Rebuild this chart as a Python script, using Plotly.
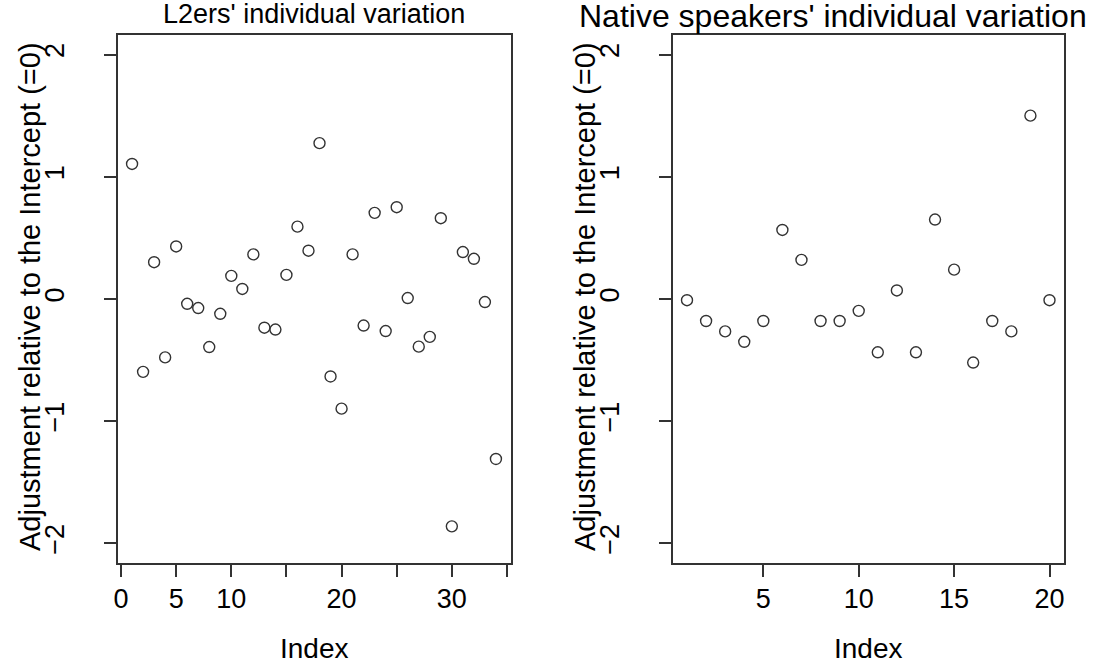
import plotly.graph_objects as go

# ---- data ----
l2_index = list(range(1, 35))
l2_adjust = [1.105, -0.596, 0.301, -0.478, 0.430, -0.039, -0.074, -0.393, -0.121, 0.189,
             0.082, 0.365, -0.235, -0.250, 0.197, 0.592, 0.395, 1.275, -0.634, -0.897,
             0.365, -0.217, 0.705, -0.262, 0.751, 0.008, -0.390, -0.310, 0.661, -1.860,
             0.384, 0.329, -0.025, -1.309]

ns_index = list(range(1, 21))
ns_adjust = [-0.010, -0.180, -0.265, -0.350, -0.180, 0.565, 0.320, -0.180, -0.180, -0.097,
             -0.436, 0.070, -0.436, 0.650, 0.240, -0.520, -0.180, -0.265, 1.500, -0.010]

y_tickvals = [-2, -1, 0, 1, 2]
y_ticktext = ["\u22122", "\u22121", "0", "1", "2"]
l2_xtickvals = [0, 5, 10, 15, 20, 25, 30, 35]
l2_xticktext = ["0", "5", "10", "", "20", "", "30", ""]
ns_xtickvals = [5, 10, 15, 20]
ns_xticktext = ["5", "10", "15", "20"]

titles = ["L2ers' individual variation", "Native speakers' individual variation"]
y_title = "Adjustment relative to the Intercept (=0)"
x_title = "Index"

# ---- layout geometry ----
W, H = 1104, 666
FONT = "Liberation Sans, Arial, sans-serif"
INK = "#333333"
box_top, box_bot = 35, 563
left_box = (117.5, 510.5)
right_box = (672.5, 1064.0)

def rng(n):
    pad = (n - 1) * 0.04
    return [1 - pad, n + pad]

fig = go.Figure()
marker = dict(symbol="circle-open", size=11, color=INK, line=dict(width=1.4, color=INK))
fig.add_trace(go.Scatter(x=l2_index, y=l2_adjust, mode="markers", marker=marker,
                         xaxis="x", yaxis="y", showlegend=False))
fig.add_trace(go.Scatter(x=ns_index, y=ns_adjust, mode="markers", marker=marker,
                         xaxis="x2", yaxis="y2", showlegend=False))

ydom = [1 - box_bot / H, 1 - box_top / H]
axis_common = dict(showline=True, mirror=True, linecolor=INK, linewidth=1.5,
                   ticks="outside", ticklen=12, tickwidth=1.5, tickcolor=INK,
                   showgrid=False, zeroline=False, automargin=False,
                   tickfont=dict(family=FONT, size=27, color="black"))

fig.update_layout(
    width=W, height=H, margin=dict(l=0, r=0, t=0, b=0),
    paper_bgcolor="white", plot_bgcolor="white",
    xaxis=dict(domain=[left_box[0] / W, left_box[1] / W], range=rng(34),
               tickmode="array", tickvals=l2_xtickvals, ticktext=l2_xticktext,
               anchor="y", ticklabelstandoff=-1, **axis_common),
    yaxis=dict(domain=ydom, range=[-2.16, 2.16], tickmode="array",
               tickvals=y_tickvals, ticktext=y_ticktext, tickangle=-90,
               anchor="x", ticklabelstandoff=29, **axis_common),
    xaxis2=dict(domain=[right_box[0] / W, right_box[1] / W], range=rng(20),
                tickmode="array", tickvals=ns_xtickvals, ticktext=ns_xticktext,
                anchor="y2", ticklabelstandoff=-1, **axis_common),
    yaxis2=dict(domain=ydom, range=[-2.16, 2.16], tickmode="array",
                tickvals=y_tickvals, ticktext=y_ticktext, tickangle=-90,
                anchor="x2", ticklabelstandoff=29, **axis_common),
)

ann = []
title_sizes = [27, 32]
title_cx = [314, 833]
title_cy = [14, 16]
for i, (bx, title) in enumerate(zip([left_box, right_box], titles)):
    cx = (bx[0] + bx[1]) / 2
    ann.append(dict(text=title, x=title_cx[i] / W, y=1 - title_cy[i] / H,
                    xref="paper", yref="paper", xanchor="center", yanchor="middle",
                    showarrow=False,
                    font=dict(family=FONT, size=title_sizes[i], color="black")))
    ann.append(dict(text=y_title, x=(bx[0] - 87.5) / W, y=1 - 297 / H, textangle=-90,
                    xref="paper", yref="paper", xanchor="center", yanchor="middle",
                    showarrow=False, font=dict(family=FONT, size=29, color="black")))
    ann.append(dict(text=x_title, x=cx / W, y=0,
                    xref="paper", yref="paper", xanchor="center", yanchor="bottom",
                    showarrow=False, font=dict(family=FONT, size=28, color="black")))
fig.update_layout(annotations=ann)

fig.write_html("out.html")
